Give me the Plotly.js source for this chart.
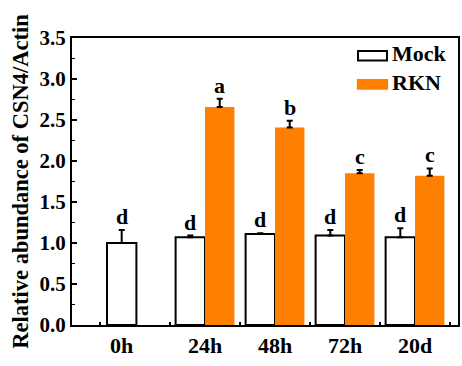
<!DOCTYPE html>
<html>
<head>
<meta charset="utf-8">
<script src="https://cdn.plot.ly/plotly-3.0.1.min.js"></script>
<style>html,body{margin:0;padding:0;background:#fff;}#chart{width:462px;height:366px;}</style>
</head>
<body>
<div id="chart"></div>
<script>
// ---- data ----
const categories = ['0h', '24h', '48h', '72h', '20d'];
const mockValues = [1.00, 1.07, 1.11, 1.09, 1.07];
const mockErrors = [0.16, 0.02, 0.01, 0.07, 0.11];
const rknValues = [null, 2.66, 2.41, 1.85, 1.82];
const rknErrors = [null, 0.10, 0.08, 0.04, 0.09];
const mockLetters = ['d', 'd', 'd', 'd', 'd'];
const rknLetters = [null, 'a', 'b', 'c', 'c'];

// ---- layout constants ----
const groupPos = [-0.19, 1, 2, 3, 4];
const barW = 0.42;
const mockOffset = groupPos.map((p, i) => (rknValues[i] === null ? -barW / 2 : -barW));
const rknOffset = groupPos.map(() => 0);
const FONT = '"Liberation Serif"';
const ORANGE = '#FF8000';

const mockTrace = {
  type: 'bar', name: 'Mock', x: groupPos, y: mockValues,
  width: barW, offset: mockOffset,
  marker: { color: '#ffffff', line: { color: '#000', width: 2 } },
  error_y: { type: 'data', symmetric: false, array: mockErrors, arrayminus: mockErrors.map(() => 0),
             color: '#000', thickness: 2, width: 3 },
  showlegend: false, hoverinfo: 'skip'
};
const rknTrace = {
  type: 'bar', name: 'RKN', x: groupPos, y: rknValues,
  width: barW, offset: rknOffset,
  marker: { color: ORANGE, line: { width: 0 } },
  error_y: { type: 'data', symmetric: false, array: rknErrors, arrayminus: rknErrors.map(() => 0),
             color: '#000', thickness: 2, width: 3 },
  showlegend: false, hoverinfo: 'skip'
};

const letterFont = { family: FONT, size: 22, color: '#000', weight: 'bold' };
const annotations = [];
groupPos.forEach((p, i) => {
  if (mockValues[i] !== null) {
    annotations.push({ x: p + mockOffset[i] + barW / 2, y: mockValues[i] + mockErrors[i], text: mockLetters[i],
      showarrow: false, yanchor: 'bottom', yshift: -1, font: letterFont });
  }
  if (rknValues[i] !== null) {
    annotations.push({ x: p + rknOffset[i] + barW / 2, y: rknValues[i] + rknErrors[i], text: rknLetters[i],
      showarrow: false, yanchor: 'bottom', yshift: -1, font: letterFont });
  }
});
// legend (manual)
const legFont = { family: FONT, size: 22, color: '#000', weight: 'bold' };
annotations.push({ xref: 'paper', yref: 'paper', x: 0.824, y: 0.945, xanchor: 'left', yanchor: 'middle', text: 'Mock',
  showarrow: false, font: legFont });
annotations.push({ xref: 'paper', yref: 'paper', x: 0.824, y: 0.845, xanchor: 'left', yanchor: 'middle', text: 'RKN',
  showarrow: false, font: legFont });
const shapes = [
  { type: 'rect', xref: 'paper', yref: 'paper', x0: 0.741, x1: 0.816, y0: 0.922, y1: 0.955,
    line: { color: '#000', width: 2 }, fillcolor: '#fff' },
  { type: 'rect', xref: 'paper', yref: 'paper', x0: 0.738, x1: 0.819, y0: 0.82, y1: 0.857,
    line: { width: 0 }, fillcolor: ORANGE }
];

const layout = {
  width: 462, height: 366,
  margin: { l: 72, r: 4, t: 38, b: 41 },
  paper_bgcolor: '#fff', plot_bgcolor: '#fff',
  barmode: 'overlay',
  font: { family: FONT, color: '#000' },
  xaxis: {
    range: [-0.9, 4.614], tickmode: 'array', tickvals: groupPos, ticktext: categories,
    ticks: '', showgrid: false, zeroline: false,
    showline: true, mirror: true, linecolor: '#000', linewidth: 2,
    tickfont: { family: FONT, size: 22, color: '#000', weight: 'bold' },
    minor: { tick0: 0.5, dtick: 1, ticks: 'inside', ticklen: 3, tickwidth: 1.5, tickcolor: '#000', showgrid: false }
  },
  yaxis: {
    range: [0, 3.5], tickmode: 'linear', tick0: 0, dtick: 0.5, tickformat: '.1f',
    ticks: 'inside', ticklen: 5, tickwidth: 2, tickcolor: '#000',
    showgrid: false, zeroline: false,
    showline: true, mirror: true, linecolor: '#000', linewidth: 2,
    tickfont: { family: FONT, size: 21, color: '#000', weight: 'bold' },
    minor: { dtick: 0.25, ticks: 'inside', ticklen: 3, tickwidth: 1.5, tickcolor: '#000', showgrid: false },
    title: { text: 'Relative abundance of CSN4/Actin', standoff: 5,
             font: { family: FONT, size: 22.5, color: '#000', weight: 'bold' } }
  },
  annotations: annotations,
  shapes: shapes
};

Plotly.newPlot('chart', [mockTrace, rknTrace], layout, { staticPlot: true, displayModeBar: false });
</script>
</body>
</html>
